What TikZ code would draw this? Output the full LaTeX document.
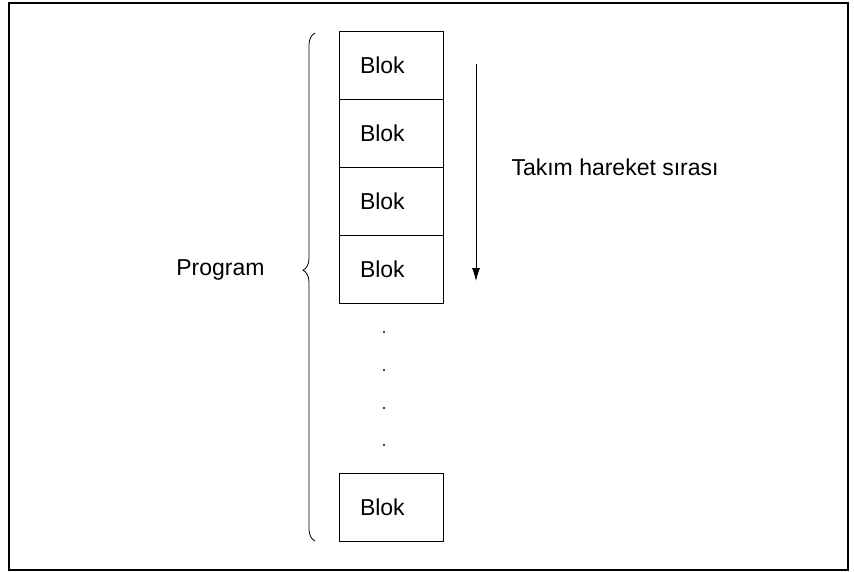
\documentclass[tikz,border=0pt]{standalone}
\usepackage{fontspec}
\setmainfont{Liberation Sans}
\usetikzlibrary{arrows.meta,decorations.pathreplacing}

\tikzset{
    blok/.style={draw, thick, minimum width=104pt, minimum height=68pt, text width=62pt, inner xsep=21pt, align=left, font=\fontsize{23}{27}\selectfont},
    yazi/.style={font=\fontsize{23}{27}\selectfont}
}

\begin{document}
\begin{tikzpicture}[x=1pt, y=-1pt]
    \useasboundingbox (0,0) rectangle (854,571);
    \draw[line width=2pt] (9,3) rectangle (848,570);
    % program blocks
    \foreach \i/\y in {1/65, 2/133, 3/201, 4/269}
        \node[blok] (b\i) at (391,\y) {Blok};
    \node[blok] (bn) at (391,507) {Blok};
    \foreach \y in {332, 370, 408, 445}
        \fill (384,\y) circle (1.1pt);
    % brace and labels
    \draw[thick, decorate, decoration={brace, amplitude=12pt, aspect=0.533}] (315,541) -- (315,33);
    \node[yazi, anchor=east] (program) at (268,270) {Program};
    \coordinate (oktop) at (476,64);
    \coordinate (okbot) at (476,281);
    \draw[thick, -{Latex[length=13pt, width=8pt]}] (oktop) -- (okbot);
    \node[yazi, anchor=west] (sira) at (508,167) {Takım hareket sırası};
\end{tikzpicture}
\end{document}
